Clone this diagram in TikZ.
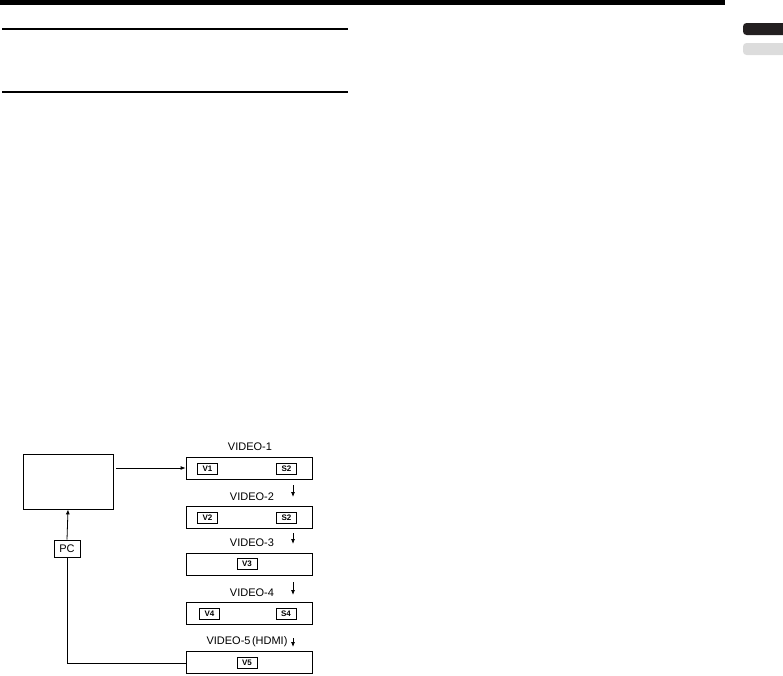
\documentclass[tikz,border=0pt]{standalone}
\usepackage{fontspec}
\setmainfont{Liberation Sans}
\usetikzlibrary{arrows.meta}
\definecolor{tabdark}{HTML}{231F20}
\definecolor{tablight}{HTML}{DCDCDC}
\begin{document}
\begin{tikzpicture}[x=1pt,y=-1pt,
  panel/.style={draw,line width=0.8pt,minimum height=22pt,minimum width=126pt,inner sep=0pt},
  tag/.style={draw,line width=0.8pt,minimum height=11pt,minimum width=20pt,inner sep=0pt,font=\fontsize{8}{8}\selectfont\bfseries},
  lbl/.style={font=\fontsize{11}{11}\selectfont,inner sep=0pt},
  arr/.style={line width=0.8pt,-{Latex[length=5pt,width=4pt]}},
  conn/.style={line width=0.8pt}]
\useasboundingbox (0,0) rectangle (783,675);
% header rules
\fill (0,0) rectangle (725,4.5);
\draw[line width=2pt] (2,29) -- (348,29);
\draw[line width=2pt] (2,92) -- (348,92);
% tabs
\fill[tabdark,rounded corners=3.5pt] (743,23) rectangle (790,35);
\fill[tablight,rounded corners=3.5pt] (743,43) rectangle (790,55);
% left box
\node[draw,line width=0.8pt,minimum width=90pt,minimum height=55pt,inner sep=0pt] (src) at (68,481.5) {};
% panels
\node[panel] (p1) at (249,468) {};
\node[panel] (p2) at (249,517) {};
\node[panel] (p3) at (249,564) {};
\node[panel] (p4) at (249,613.5) {};
\node[panel] (p5) at (249,662) {};
% tags
\node[tag] (v1) at (207.5,468.5) {V1};
\node[tag] (s1) at (286.5,468.5) {S2};
\node[tag] (v2) at (207.5,517.5) {V2};
\node[tag] (s2) at (286.5,517.5) {S2};
\node[tag] (v3) at (247,563.5) {V3};
\node[tag] (v4) at (209.5,614) {V4};
\node[tag] (s4) at (286,614) {S4};
\node[tag] (v5) at (247,662.5) {V5};
% labels
\node[lbl] (l1) at (250,447) {VIDEO-1};
\node[lbl] (l2) at (252,497) {VIDEO-2};
\node[lbl] (l3) at (252,543) {VIDEO-3};
\node[lbl] (l4) at (252,593) {VIDEO-4};
\node[lbl] (l5) at (247,642) {VIDEO-5\kern1.5pt(HDMI)};
% down arrows
\coordinate (a1s) at (293,485); \coordinate (a1e) at (293,497);
\coordinate (a2s) at (293,533); \coordinate (a2e) at (293,544);
\coordinate (a3s) at (293,582); \coordinate (a3e) at (293,595);
\coordinate (a4s) at (293,638); \coordinate (a4e) at (293,647);
\draw[arr] (a1s) -- (a1e);
\draw[arr] (a2s) -- (a2e);
\draw[arr] (a3s) -- (a3e);
\draw[arr] (a4s) -- (a4e);
% connections
\draw[arr] (src.east |- 0,468) ++(3,0) coordinate (out1) -- (p1.west |- out1);
\node[draw,line width=0.8pt,minimum width=26pt,minimum height=17pt,inner sep=0pt,font=\fontsize{11}{11}\selectfont] (pc) at (67,548.5) {PC};
\draw[conn] (p5.west |- 0,663) -- (67,663) -- (pc.south);
\draw[arr] (pc.north) -- (src.south);
\end{tikzpicture}
\end{document}
